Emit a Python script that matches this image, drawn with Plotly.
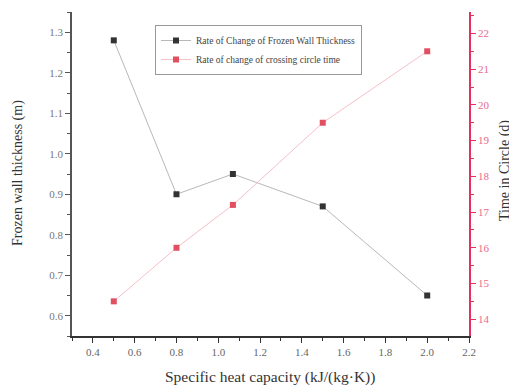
import plotly.graph_objects as go

heat_capacity = [0.5, 0.8, 1.07, 1.5, 2.0]
wall_thickness = [1.28, 0.90, 0.95, 0.87, 0.65]
circle_time = [14.5, 16.0, 17.2, 19.5, 21.5]

x_ticks = [0.4, 0.6, 0.8, 1.0, 1.2, 1.4, 1.6, 1.8, 2.0, 2.2]
y_ticks = [0.6, 0.7, 0.8, 0.9, 1.0, 1.1, 1.2, 1.3]
y2_ticks = [14, 15, 16, 17, 18, 19, 20, 21, 22]

FONT = "Liberation Serif"
RED = "#e8305f"
RED_TXT = "#ea6a8a"

fig = go.Figure()
fig.add_trace(go.Scatter(
    x=heat_capacity, y=wall_thickness, mode="lines+markers",
    name="Rate of Change of Frozen Wall Thickness",
    line=dict(color="#b8b8b8", width=1),
    marker=dict(symbol="square", size=6, color="#333333"),
))
fig.add_trace(go.Scatter(
    x=heat_capacity, y=circle_time, mode="lines+markers", yaxis="y2",
    name="Rate of change of crossing circle time",
    line=dict(color="#f5c0c8", width=1),
    marker=dict(symbol="square", size=6, color="#e05060"),
))

# page body has an 8px margin, so the figure is 8px smaller than the window
W, H = 509, 379
L, R, T, B = 64, 48, 4, 51
PW, PH = W - L - R, H - T - B


def px_x(x):
    return (x - L) / PW


def px_y(y):
    return 1 - (y - T) / PH


title_font = dict(family=FONT, size=14, color="#333333")

fig.update_layout(
    width=W, height=H,
    margin=dict(l=L, r=R, t=T, b=B),
    paper_bgcolor="white", plot_bgcolor="white",
    font=dict(family=FONT, size=11, color="#555555"),
    showlegend=True,
    legend=dict(
        x=px_x(147), y=px_y(17), xanchor="left", yanchor="top",
        bgcolor="white", bordercolor="#999999", borderwidth=1,
        font=dict(family=FONT, size=9.5, color="#444444"),
        tracegroupgap=0, itemwidth=30,
    ),
    xaxis=dict(
        range=[0.3, 2.2], tickvals=x_ticks,
        ticktext=[f"{v:.1f}" for v in x_ticks],
        showgrid=False, zeroline=False,
        showline=True, linecolor="#333333", linewidth=1.5,
        ticks="outside", ticklen=5, tickcolor="#333333",
        minor=dict(dtick=0.1, tick0=0.3, ticks="outside", ticklen=3, tickcolor="#333333"),
        tickfont=dict(family=FONT, size=11, color="#666666"),
    ),
    yaxis=dict(
        range=[0.55, 1.35], tickvals=y_ticks,
        ticktext=[f"{v:.1f}" for v in y_ticks],
        showgrid=False, zeroline=False,
        showline=True, linecolor="#555555", linewidth=1.5,
        ticks="outside", ticklen=5, tickcolor="#555555",
        minor=dict(dtick=0.05, tick0=0.55, ticks="outside", ticklen=3, tickcolor="#555555"),
        tickfont=dict(family=FONT, size=11, color="#777777"),
    ),
    yaxis2=dict(
        overlaying="y", side="right",
        range=[13.53, 22.6], tickvals=y2_ticks,
        showgrid=False, zeroline=False,
        showline=True, linecolor=RED, linewidth=1.5,
        ticks="outside", ticklen=5, tickcolor=RED,
        minor=dict(dtick=0.5, tick0=14, ticks="outside", ticklen=3, tickcolor=RED),
        tickfont=dict(family=FONT, size=11, color=RED_TXT),
    ),
    annotations=[
        dict(text="Specific heat capacity (kJ/(kg·K))", xref="paper", yref="paper",
             x=px_x(262), y=px_y(369), xanchor="center", yanchor="middle",
             showarrow=False, font=dict(family=FONT, size=15.5, color="#333333")),
        dict(text="Frozen wall thickness (m)", xref="paper", yref="paper",
             x=px_x(10), y=px_y(165), xanchor="center", yanchor="middle",
             showarrow=False, textangle=-90, font=title_font),
        dict(text="Time in Circle (d)", xref="paper", yref="paper",
             x=px_x(497), y=px_y(163), xanchor="center", yanchor="middle",
             showarrow=False, textangle=-90, font=title_font),
    ],
)

fig.write_html("out.html")
